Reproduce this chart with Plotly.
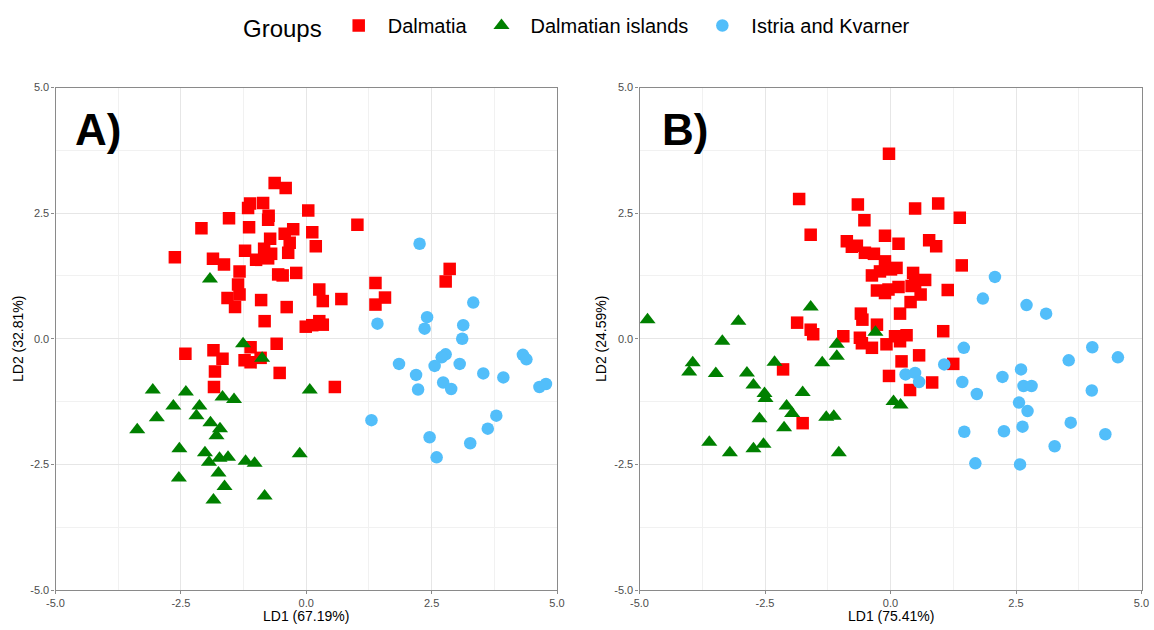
import plotly.graph_objects as go

# ---------------- Data ----------------
groups = ["Dalmatia", "Dalmatian islands", "Istria and Kvarner"]
colors = ["#FF0000", "#008000", "#52BEFA"]
symbols = ["square", "triangle-up", "circle"]

# Panel A: LD1 (67.19%) / LD2 (32.81%)
a_dal_x = [-0.63, -0.41, -1.12, -0.86, -1.16, 0.04, -1.54, -0.75, -0.76, -2.09, -1.14, 1.02, 0.12, -0.43,
           -0.26, -0.72, -0.33, 0.19, -1.22, -0.84, -0.70, -0.36, -2.62, -1.86, -1.00, -0.76, -1.64, -1.33,
           -0.56, -0.47, -0.20, -1.36, -1.33, -1.57, -0.90, 0.26, 0.33, 0.70, -1.42, -0.39, 1.38, 1.38,
           -0.83, -0.01, 0.12, 0.26, 0.33, -0.59, -2.41, -1.85, -1.67, -1.11, -1.23, -1.11, -0.91, -0.53,
           -1.82, -1.84, 0.57, 2.86, 2.78, 1.57]
a_dal_y = [3.10, 3.00, 2.69, 2.70, 2.60, 2.55, 2.40, 2.45, 2.37, 2.20, 2.22, 2.27, 2.12, 2.09,
           2.18, 1.99, 1.91, 1.84, 1.75, 1.79, 1.69, 1.71, 1.62, 1.59, 1.57, 1.60, 1.48, 1.34,
           1.28, 1.26, 1.31, 1.08, 0.88, 0.81, 0.77, 0.98, 0.75, 0.79, 0.63, 0.63, 1.11, 0.68,
           0.35, 0.24, 0.27, 0.35, 0.28, -0.10, -0.30, -0.23, -0.40, -0.17, -0.43, -0.47, -0.38, -0.68,
           -0.65, -0.96, -0.96, 1.39, 1.14, 0.82]
a_isl_x = [-1.92, -1.26, -0.88, -3.06, -2.40, 0.07, -1.67, -1.44, -2.65, -2.13, -2.19, -2.98, -1.91,
           -1.72, -3.37, -1.79, -2.53, -2.02, -1.94, -1.73, -1.56, -1.21, -1.03, -0.13, -1.75, -2.54,
           -1.63, -1.85, -0.83]
a_isl_y = [1.19, -0.10, -0.39, -1.02, -1.06, -1.02, -1.16, -1.21, -1.34, -1.34, -1.53, -1.57, -1.67,
           -1.79, -1.81, -1.93, -2.19, -2.27, -2.46, -2.38, -2.36, -2.44, -2.48, -2.29, -2.67, -2.77,
           -2.94, -3.21, -3.13]
a_ist_x = [2.26, 3.33, 1.42, 2.41, 2.36, 3.13, 3.11, 2.78, 2.70, 2.56, 3.06, 1.85, 2.19, 3.53,
           3.93, 4.32, 4.39, 2.73, 2.89, 2.23, 4.65, 4.78, 1.30, 3.79, 3.62, 2.46, 3.27, 2.60]
a_ist_y = [1.89, 0.72, 0.30, 0.43, 0.20, 0.27, 0.00, -0.31, -0.37, -0.54, -0.50, -0.50, -0.72, -0.69,
           -0.77, -0.32, -0.41, -0.87, -1.00, -1.01, -0.96, -0.90, -1.62, -1.53, -1.79, -1.96, -2.08, -2.36]

# Panel B: LD1 (75.41%) / LD2 (24.59%)
b_dal_x = [-0.03, -1.82, -0.65, 0.49, 0.95, 1.38, -0.52, -1.59, -0.11, -0.87, -0.67, -0.77, 0.16, 0.77,
           0.91, -0.51, -0.33, -0.11, 1.42, 0.12, 0.01, -0.21, -0.37, 0.45, 0.69, 0.49, -0.27, -0.04,
           0.16, -0.11, 0.42, 0.60, 1.14, 0.40, 0.19, -0.59, -0.56, -1.86, -0.27, -1.59, -1.54, -0.94,
           -0.61, -0.57, -0.37, -0.08, 0.09, 0.32, 0.19, 1.05, 0.57, 0.22, 1.25, -0.03, 0.83, 0.39,
           -2.14, -1.75]
b_dal_y = [3.68, 2.78, 2.67, 2.59, 2.69, 2.41, 2.36, 2.07, 2.05, 1.94, 1.85, 1.83, 1.89, 1.96,
           1.84, 1.71, 1.69, 1.54, 1.46, 1.41, 1.38, 1.34, 1.26, 1.31, 1.17, 1.08, 0.96, 0.98,
           1.03, 0.91, 1.05, 0.88, 0.97, 0.73, 0.50, 0.50, 0.38, 0.32, 0.28, 0.18, 0.09, 0.05,
           0.02, -0.09, -0.18, -0.11, 0.05, 0.07, -0.05, 0.15, -0.33, -0.45, -0.50, -0.74, -0.87, -1.02,
           -0.61, -1.68]
b_isl_x = [-4.84, -3.03, -1.59, -0.30, -3.35, -3.94, -4.01, -3.48, -2.86, -2.73, -2.31, -2.51, -2.49,
           -1.75, -2.07, -1.96, -2.61, -2.12, -1.28, -1.13, -3.61, -3.20, -2.73, -2.53, -1.03, -1.36,
           -1.07, -1.07, 0.06, 0.20]
b_isl_y = [0.38, 0.35, 0.63, 0.13, -0.05, -0.48, -0.66, -0.69, -0.68, -0.92, -0.47, -1.09, -1.19,
           -1.07, -1.34, -1.49, -1.59, -1.77, -1.56, -1.54, -2.06, -2.27, -2.19, -2.10, -2.27, -0.48,
           -0.11, -0.35, -1.25, -1.32]
b_ist_x = [2.08, 1.84, 2.71, 3.10, 1.46, 4.02, 3.55, 4.53, 1.07, 2.60, 0.30, 0.49, 0.57, 1.43,
           2.23, 2.65, 2.81, 1.72, 4.01, 2.56, 2.73, 1.47, 2.26, 2.63, 3.59, 4.28, 3.27, 1.69, 2.58]
b_ist_y = [1.23, 0.80, 0.67, 0.50, -0.18, -0.17, -0.43, -0.37, -0.51, -0.61, -0.71, -0.68, -0.86, -0.86,
           -0.76, -0.94, -0.94, -1.10, -1.03, -1.27, -1.44, -1.85, -1.84, -1.75, -1.67, -1.90, -2.14, -2.48, -2.50]

tick_vals = [-5.0, -2.5, 0.0, 2.5, 5.0]
tick_text = ["-5.0", "-2.5", "0.0", "2.5", "5.0"]
x_titles = ["LD1 (67.19%)", "LD1 (75.41%)"]
y_titles = ["LD2 (32.81%)", "LD2 (24.59%)"]
panel_labels = ["A)", "B)"]

# ---------------- Figure ----------------
FONT = "Liberation Sans, Arial, sans-serif"
sizes = [12.5, 14, 12.5]

fig = go.Figure()
panels = [
    ("x", "y", [(a_dal_x, a_dal_y), (a_isl_x, a_isl_y), (a_ist_x, a_ist_y)], True),
    ("x2", "y2", [(b_dal_x, b_dal_y), (b_isl_x, b_isl_y), (b_ist_x, b_ist_y)], False),
]
for xa, ya, series, show in panels:
    for i, (xs, ys) in enumerate(series):
        fig.add_trace(go.Scatter(
            x=xs, y=ys, mode="markers", name=groups[i], legendgroup=groups[i],
            showlegend=show, xaxis=xa, yaxis=ya,
            marker=dict(symbol=symbols[i], color=colors[i], size=sizes[i], line=dict(width=0)),
        ))

W, H = 1154, 630

def px(xp):
    return xp / W

def py(yp):
    return 1 - yp / H

x_domains = [[px(55.5), px(557)], [px(639.5), px(1141.5)]]
y_domain = [py(590), py(87.5)]

def axis_common():
    return dict(
        range=[-5, 5], tickvals=tick_vals, ticktext=tick_text,
        showgrid=True, gridcolor="#E6E6E6", gridwidth=1,
        minor=dict(dtick=1.25, showgrid=True, gridcolor="#F1F1F1", gridwidth=1, ticks=""),
        showline=True, mirror=True, linecolor="#8A8A8A", linewidth=1.2,
        ticks="outside", ticklen=3, tickcolor="#8A8A8A", tickwidth=1,
        tickfont=dict(family=FONT, size=11, color="#4D4D4D"),
        zeroline=False, fixedrange=True, automargin=False,
    )

layout = dict(
    width=W, height=H, autosize=False,
    margin=dict(l=0, r=0, t=0, b=0, autoexpand=False),
    paper_bgcolor="white", plot_bgcolor="white",
    font=dict(family=FONT, color="black"),
    showlegend=True,
    legend=dict(
        orientation="h", x=px(578), xanchor="center", y=py(6), yanchor="top",
        title=dict(text="Groups", font=dict(size=24, family=FONT, color="black"), side="left"),
        font=dict(size=20, family=FONT, color="black"),
        itemsizing="trace", itemwidth=48, bgcolor="rgba(0,0,0,0)",
    ),
)
for k, (dom, yax) in enumerate(zip(x_domains, ["y", "y2"])):
    xa = axis_common(); xa.update(domain=dom, anchor=yax)
    ya = axis_common(); ya.update(domain=y_domain, anchor="x" if k == 0 else "x2")
    layout["xaxis" if k == 0 else "xaxis2"] = xa
    layout["yaxis" if k == 0 else "yaxis2"] = ya
fig.update_layout(**layout)

annotations = []
ytitle_x = [18, 601]
label_x = [73, 660]
for k in range(2):
    annotations.append(dict(
        text=x_titles[k], xref="paper", yref="paper",
        x=(x_domains[k][0] + x_domains[k][1]) / 2, y=py(616),
        xanchor="center", yanchor="middle", showarrow=False,
        font=dict(family=FONT, size=14, color="black")))
    annotations.append(dict(
        text=y_titles[k], xref="paper", yref="paper",
        x=px(ytitle_x[k]), y=py(339), textangle=-90,
        xanchor="center", yanchor="middle", showarrow=False,
        font=dict(family=FONT, size=14, color="black")))
    annotations.append(dict(
        text="<b>" + panel_labels[k] + "</b>", xref="paper", yref="paper",
        x=px(label_x[k]), y=py(130),
        xanchor="left", yanchor="middle", showarrow=False,
        font=dict(family=FONT, size=44, color="black")))
fig.update_layout(annotations=annotations)

fig.write_html("out.html")
